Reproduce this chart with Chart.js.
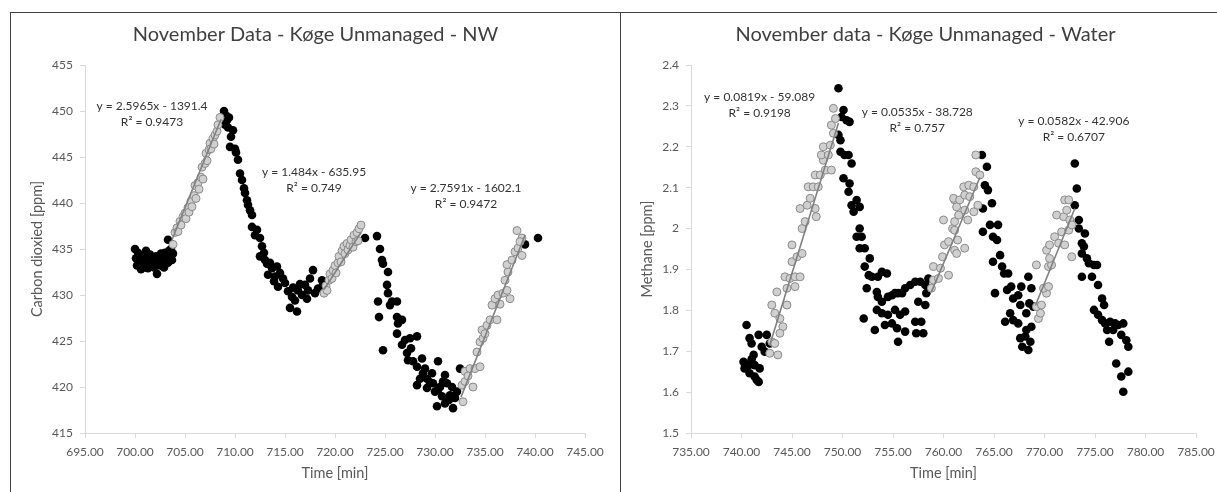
<!DOCTYPE html>
<html>
<head>
<meta charset="utf-8">
<script src="https://cdn.jsdelivr.net/npm/chart.js@4.4.0/dist/chart.umd.min.js"></script>
<style>
  body { margin:0; background:#fff; width:1217px; height:492px; overflow:hidden; position:relative; }
  .box { position:absolute; top:12px; width:609px; height:480px; border:1px solid #404040; border-bottom:none; }
  #leftBox { left:10px; }
  #rightBox { left:620px; }
  .wrap { position:relative; width:609px; height:479px; }
</style>
</head>
<body>
<div class="box" id="leftBox"><div class="wrap"><canvas id="co2Chart"></canvas></div></div>
<div class="box" id="rightBox"><div class="wrap"><canvas id="ch4Chart"></canvas></div></div>
<script>
// ---- Carbon dioxide (left) ----
let co2TimeTicks = [695, 700, 705, 710, 715, 720, 725, 730, 735, 740, 745];
let co2PpmTicks = [415, 420, 425, 430, 435, 440, 445, 450, 455];

// points not used in a fit (black)
let co2BlackTime = [700.0,700.1,700.2,700.3,700.5,700.6,700.7,700.8,700.9,701.0,701.1,701.2,701.3,701.4,701.5,701.6,701.7,701.8,701.9,702.0,702.1,702.2,702.3,702.4,702.5,702.6,702.7,702.8,702.9,703.0,703.1,703.2,703.3,703.4,703.5,703.6,703.7,703.8,703.3,
  708.9,709.0,709.1,709.2,709.4,709.3,709.6,709.8,709.5,710.0,710.1,710.3,710.5,710.7,711.0,711.2,711.5,711.7,711.7,712.2,712.5,712.7,712.5,713.2,713.7,714.2,714.5,713.3,714.3,715.0,715.3,715.7,715.5,716.2,716.3,716.7,717.0,717.2,717.5,717.8,718.0,718.3,718.7,718.8,
  713.0,713.5,714.0,714.8,715.8,716.5,717.3,712.9,710.9,711.3,712.0,713.9,716.0,
  723.0,724.2,724.5,724.7,724.8,725.3,724.3,724.4,724.8,725.2,725.3,725.7,726.2,725.5,726.2,726.7,726.3,726.2,727.0,727.5,728.2,726.7,727.2,727.3,727.8,728.2,728.7,729.0,728.2,728.5,729.2,729.7,729.8,729.2,730.0,730.3,731.0,731.2,730.7,730.2,731.0,731.5,731.7,731.8,732.0,732.2,732.5,730.3,730.5,
  727.6,728.8,729.5,730.8,731.4,
  739.0,740.3];
let co2BlackPpm = [435.0,434.0,433.2,434.6,433.8,432.8,434.3,433.5,434.0,433.0,434.8,433.6,432.9,433.9,434.4,433.3,433.7,434.1,433.0,433.5,434.2,432.3,433.6,434.0,433.2,434.5,433.8,434.3,433.0,434.6,433.9,434.4,433.5,434.8,434.1,435.0,433.8,434.5,436.0,
  450.0,448.5,449.5,449.0,449.3,448.2,447.2,447.9,446.1,445.9,445.5,444.7,443.2,442.5,441.1,440.3,439.2,438.7,437.4,437.1,436.2,435.3,434.2,433.4,432.9,433.1,432.4,432.2,430.9,431.3,430.4,429.8,428.6,428.2,430.5,430.0,431.1,429.6,431.8,432.7,430.2,430.7,431.6,431.1,
  433.8,433.5,432.0,431.8,430.8,431.2,430.5,434.6,441.6,439.8,436.5,431.5,429.4,
  436.2,436.4,435.0,433.8,433.4,432.5,429.3,427.6,424.0,431.1,430.2,429.3,429.3,428.9,427.6,427.3,426.9,425.8,425.1,425.3,425.5,424.6,423.7,422.9,422.8,422.2,423.1,422.0,420.2,420.9,420.9,421.5,420.4,419.9,419.5,419.7,421.3,420.4,419.0,417.9,418.2,419.1,420.0,417.7,418.8,419.5,422.0,422.8,420.0,
  424.2,421.5,420.5,420.6,418.6,
  435.5,436.2];

// points used in the three fits (grey)
let co2GreyTime = [703.8,704.0,704.2,704.3,704.5,704.6,704.8,705.0,705.1,705.3,705.4,705.6,705.7,705.9,706.0,706.1,706.3,706.4,706.6,706.7,706.8,707.0,707.1,707.2,707.4,707.5,707.6,707.8,707.9,708.0,708.2,708.3,708.5,
  718.9,719.1,719.2,719.4,719.5,719.7,719.8,720.0,720.1,720.3,720.4,720.6,720.7,720.9,721.0,721.2,721.3,721.5,721.6,721.8,721.9,722.1,722.2,722.4,722.6,722.3,
  732.8,732.7,733.0,733.0,733.5,733.8,734.0,734.5,734.2,734.5,734.8,734.7,735.2,735.5,736.2,735.7,736.0,736.3,736.8,737.5,737.2,737.0,737.3,737.2,737.7,738.0,738.3,738.7,738.2,738.7,733.3,735.0,736.5,738.5];
let co2GreyPpm = [435.5,436.8,437.3,436.9,438.0,437.6,438.5,438.9,438.3,439.5,439.0,440.2,439.6,440.8,441.9,440.5,442.2,441.5,442.8,443.9,442.6,444.3,445.4,444.6,445.8,446.5,445.9,447.0,446.4,447.4,447.8,448.5,449.3,
  430.2,431.0,430.5,431.6,432.3,431.8,432.7,433.2,432.4,433.5,434.2,433.6,434.8,435.3,434.5,435.6,434.9,435.4,436.0,435.2,436.5,435.8,436.8,437.2,437.6,435.9,
  418.4,420.2,421.7,420.6,422.0,420.0,422.0,422.2,423.8,424.9,425.3,426.2,426.7,427.3,427.3,428.9,429.6,430.0,430.2,429.6,430.5,431.6,432.5,433.3,433.8,434.7,435.1,434.3,437.0,436.2,421.2,425.8,429.0,435.8];

// trend line ends [start, end]
let co2TrendTime = [[703.7, 708.6], [718.9, 722.6], [732.6, 739.0]];
let co2TrendPpm = [[436.0, 449.1], [430.6, 436.8], [418.9, 436.5]];
let co2EqText = ['y = 2.5965x - 1391.4', 'y = 1.484x - 635.95', 'y = 2.7591x - 1602.1'];
let co2R2Text = ['R\u00b2 = 0.9473', 'R\u00b2 = 0.749', 'R\u00b2 = 0.9472'];
let co2EqAt = [[701.7, 450.5], [717.9, 443.4], [733.1, 441.6]];

// ---- Methane (right) ----
let ch4TimeTicks = [735, 740, 745, 750, 755, 760, 765, 770, 775, 780, 785];
let ch4PpmTicks = [1.5, 1.6, 1.7, 1.8, 1.9, 2.0, 2.1, 2.2, 2.3, 2.4];

let ch4BlackTime = [740.5,740.8,741.0,741.7,742.5,742.0,742.3,741.2,740.2,740.3,740.7,740.8,741.3,741.3,741.7,741.8,742.8,741.5,740.4,741.0,
  749.6,750.1,749.9,750.4,750.7,749.6,749.8,749.8,750.2,750.6,750.9,750.1,750.7,750.6,751.4,751.7,750.9,751.1,751.7,751.4,751.9,751.7,752.2,752.7,752.2,752.6,752.9,753.5,753.9,754.4,752.4,753.4,753.5,753.9,754.5,754.9,755.2,755.5,755.9,756.2,756.7,757.2,757.7,758.2,758.5,
  753.4,753.9,754.5,755.2,755.7,756.2,752.1,753.2,754.2,754.9,755.4,755.5,756.2,757.2,757.8,757.3,758.0,757.5,758.2,758.3,
  763.8,764.3,764.1,764.4,764.8,763.9,764.6,763.9,765.4,764.9,765.3,765.6,764.9,765.8,766.0,766.4,765.1,766.3,766.7,766.9,767.4,767.6,767.7,766.6,766.9,767.4,766.1,768.2,768.4,768.7,768.5,768.2,768.7,767.6,768.1,767.8,768.4,768.6,768.9,
  773.0,773.2,773.0,773.4,773.4,774.0,773.7,773.9,773.7,774.2,774.4,774.9,775.2,774.7,773.7,775.3,775.7,775.9,774.9,775.3,775.7,776.0,776.5,777.0,776.2,776.8,777.3,777.8,776.4,777.6,778.1,778.3,777.1,778.3,777.6,777.8];
let ch4BlackPpm = [1.764,1.732,1.719,1.740,1.740,1.711,1.699,1.691,1.674,1.658,1.666,1.646,1.666,1.638,1.625,1.658,1.719,1.630,1.668,1.680,
  2.343,2.290,2.273,2.265,2.261,2.229,2.216,2.188,2.180,2.180,2.159,2.123,2.110,2.090,2.070,2.053,2.057,2.041,2.000,1.980,1.980,1.952,1.952,1.927,1.907,1.886,1.882,1.882,1.894,1.890,1.854,1.845,1.833,1.821,1.833,1.837,1.842,1.842,1.842,1.854,1.862,1.870,1.870,1.862,1.878,
  1.801,1.793,1.789,1.801,1.789,1.797,1.780,1.752,1.764,1.768,1.756,1.723,1.748,1.772,1.772,1.744,1.744,1.821,1.813,1.842,
  2.180,2.151,2.106,2.094,2.062,2.049,2.009,1.992,2.009,1.980,1.972,1.935,1.919,1.907,1.890,1.890,1.842,1.850,1.858,1.829,1.837,1.813,1.858,1.793,1.776,1.768,1.772,1.793,1.882,1.854,1.817,1.752,1.760,1.732,1.736,1.711,1.703,1.723,1.809,
  2.159,2.098,2.057,2.021,2.000,1.988,1.964,1.956,1.939,1.927,1.915,1.911,1.911,1.882,1.882,1.862,1.829,1.813,1.801,1.789,1.776,1.768,1.772,1.768,1.752,1.752,1.764,1.768,1.723,1.740,1.727,1.711,1.670,1.650,1.638,1.601];

let ch4GreyTime = [743.0,742.8,743.6,743.3,744.1,743.0,743.3,744.5,743.8,743.8,744.5,744.3,744.8,745.3,745.8,745.3,745.0,745.5,746.0,745.0,746.0,746.3,745.8,746.5,746.8,747.3,747.4,746.6,747.1,747.6,747.3,747.8,748.3,748.9,748.1,747.9,748.6,748.1,748.8,749.1,748.9,749.3,749.1,743.5,
  758.8,759.0,759.5,759.0,759.7,759.9,760.5,760.1,760.5,761.1,760.9,760.0,761.1,761.5,761.1,761.0,761.6,762.1,762.6,762.0,762.5,763.0,763.2,763.6,763.2,761.3,762.1,763.0,763.4,762.4,761.1,761.4,762.1,761.3,
  769.4,769.6,769.2,769.7,770.2,769.9,770.4,769.2,770.4,770.7,770.5,770.2,770.5,771.0,771.4,772.0,771.7,772.4,771.2,771.9,772.2,772.0,772.4,772.5,772.7,772.7];
let ch4GreyPpm = [1.723,1.695,1.691,1.719,1.760,1.813,1.793,1.813,1.780,1.744,1.854,1.882,1.878,1.882,1.882,1.858,1.919,1.931,1.939,1.960,2.000,2.017,2.049,2.057,2.074,2.049,2.029,2.102,2.102,2.102,2.131,2.131,2.143,2.143,2.167,2.180,2.180,2.200,2.204,2.233,2.253,2.269,2.294,1.845,
  1.854,1.874,1.878,1.907,1.903,1.931,1.886,1.960,1.968,1.947,2.000,2.021,2.017,2.033,2.070,2.074,2.070,2.082,2.078,2.102,2.106,2.102,2.139,2.131,2.180,2.053,2.045,2.041,2.057,2.021,1.996,1.972,1.952,1.939,
  1.780,1.793,1.809,1.813,1.842,1.854,1.858,1.911,1.907,1.911,1.927,1.947,1.960,1.980,1.964,1.960,1.992,1.996,2.033,2.029,2.045,2.070,2.070,2.021,2.009,1.931];

let ch4TrendTime = [[742.8, 749.6], [758.8, 763.6], [769.1, 773.0]];
let ch4TrendPpm = [[1.715, 2.258], [1.845, 2.125], [1.812, 2.049]];
let ch4EqText = ['y = 0.0819x - 59.089', 'y = 0.0535x - 38.728', 'y = 0.0582x - 42.906'];
let ch4R2Text = ['R\u00b2 = 0.9198', 'R\u00b2 = 0.757', 'R\u00b2 = 0.6707'];
let ch4EqAt = [[741.8, 2.322], [757.4, 2.285], [772.9, 2.263]];

var FONT = 'Lato';
var TEXT_GREY = '#595959';
var AXIS_GREY = '#d9d9d9';

function toPoints(xs, ys) {
  return xs.map(function(x, i) { return {x: x, y: ys[i]}; });
}

// draws the equation / R² labels at data positions
var eqLabels = {
  id: 'eqLabels',
  afterDatasetsDraw: function(chart, args, opts) {
    var ctx = chart.ctx;
    var xs = chart.scales.x, ys = chart.scales.y;
    ctx.save();
    ctx.font = '12px ' + FONT;
    ctx.fillStyle = '#333333';
    ctx.textAlign = 'center';
    ctx.textBaseline = 'middle';
    opts.at.forEach(function(p, i) {
      var px = xs.getPixelForValue(p[0]);
      var py = ys.getPixelForValue(p[1]);
      ctx.fillText(opts.eq[i], px, py);
      ctx.fillText(opts.r2[i], px, py + 16);
    });
    ctx.restore();
  }
};

function makeChart(id, c) {
  var datasets = [];
  c.trendT.forEach(function(t, i) {
    datasets.push({
      data: toPoints(t, c.trendV[i]),
      showLine: true,
      borderColor: '#808080',
      borderWidth: 1.6,
      pointRadius: 0
    });
  });
  datasets.push({
    data: toPoints(c.greyT, c.greyV),
    backgroundColor: '#d0d0d0',
    borderColor: '#8a8a8a',
    borderWidth: 1,
    pointRadius: 4
  });
  datasets.push({
    data: toPoints(c.blackT, c.blackV),
    backgroundColor: '#000000',
    borderColor: '#000000',
    borderWidth: 0,
    pointRadius: 4.3
  });

  return new Chart(document.getElementById(id).getContext('2d'), {
    type: 'scatter',
    data: { datasets: datasets },
    plugins: [eqLabels],
    options: {
      responsive: true,
      maintainAspectRatio: false,
      animation: false,
      layout: { padding: 0 },
      plugins: {
        legend: { display: false },
        tooltip: { enabled: false },
        title: {
          display: true,
          text: c.title,
          color: '#404040',
          font: { family: FONT, size: 20, weight: 'normal' },
          padding: { top: 10, bottom: 18 }
        },
        eqLabels: { at: c.eqAt, eq: c.eq, r2: c.r2 }
      },
      scales: {
        x: {
          type: 'linear',
          min: c.xTicks[0],
          max: c.xTicks[c.xTicks.length - 1],
          afterBuildTicks: function(axis) { axis.ticks = c.xTicks.map(function(v) { return {value: v}; }); },
          afterFit: function(axis) { axis.height = 59; },
          grid: { display: true, drawOnChartArea: false, drawTicks: true, tickLength: 5, color: AXIS_GREY },
          border: { display: true, color: AXIS_GREY },
          ticks: {
            color: TEXT_GREY,
            font: { family: FONT, size: 12 },
            padding: 7,
            maxRotation: 0,
            callback: function(v) { return Number(v).toFixed(2); }
          },
          title: {
            display: true,
            text: 'Time [min]',
            color: TEXT_GREY,
            font: { family: FONT, size: 14.5 },
            padding: { top: 0, bottom: 10 }
          }
        },
        y: {
          type: 'linear',
          min: c.yTicks[0],
          max: c.yTicks[c.yTicks.length - 1],
          afterBuildTicks: function(axis) { axis.ticks = c.yTicks.map(function(v) { return {value: v}; }); },
          afterFit: function(axis) { axis.width = c.yWidth; },
          grid: { display: true, drawOnChartArea: false, drawTicks: true, tickLength: 5, color: AXIS_GREY },
          border: { display: true, color: AXIS_GREY },
          ticks: {
            color: TEXT_GREY,
            font: { family: FONT, size: 12 },
            padding: 7,
            callback: function(v) { return String(Math.round(v * 10) / 10); }
          },
          title: {
            display: true,
            text: c.yTitle,
            color: TEXT_GREY,
            font: { family: FONT, size: 14.5 },
            padding: { top: 18, bottom: 0 }
          }
        },
        // empty right-hand spacer so the title stays centred on the whole box
        spacer: {
          type: 'linear',
          position: 'right',
          display: true,
          grid: { display: false },
          border: { display: false },
          ticks: { display: false },
          afterFit: function(axis) { axis.width = c.padRight; }
        }
      }
    }
  });
}

makeChart('co2Chart', {
  title: 'November Data - K\u00f8ge Unmanaged - NW',
  yTitle: 'Carbon dioxied [ppm]',
  xTicks: co2TimeTicks, yTicks: co2PpmTicks,
  blackT: co2BlackTime, blackV: co2BlackPpm,
  greyT: co2GreyTime, greyV: co2GreyPpm,
  trendT: co2TrendTime, trendV: co2TrendPpm,
  eq: co2EqText, r2: co2R2Text, eqAt: co2EqAt,
  yWidth: 74, padRight: 35
});

makeChart('ch4Chart', {
  title: 'November data - K\u00f8ge Unmanaged - Water',
  yTitle: 'Methane [ppm]',
  xTicks: ch4TimeTicks, yTicks: ch4PpmTicks,
  blackT: ch4BlackTime, blackV: ch4BlackPpm,
  greyT: ch4GreyTime, greyV: ch4GreyPpm,
  trendT: ch4TrendTime, trendV: ch4TrendPpm,
  eq: ch4EqText, r2: ch4R2Text, eqAt: ch4EqAt,
  yWidth: 70, padRight: 34
});
</script>
</body>
</html>
